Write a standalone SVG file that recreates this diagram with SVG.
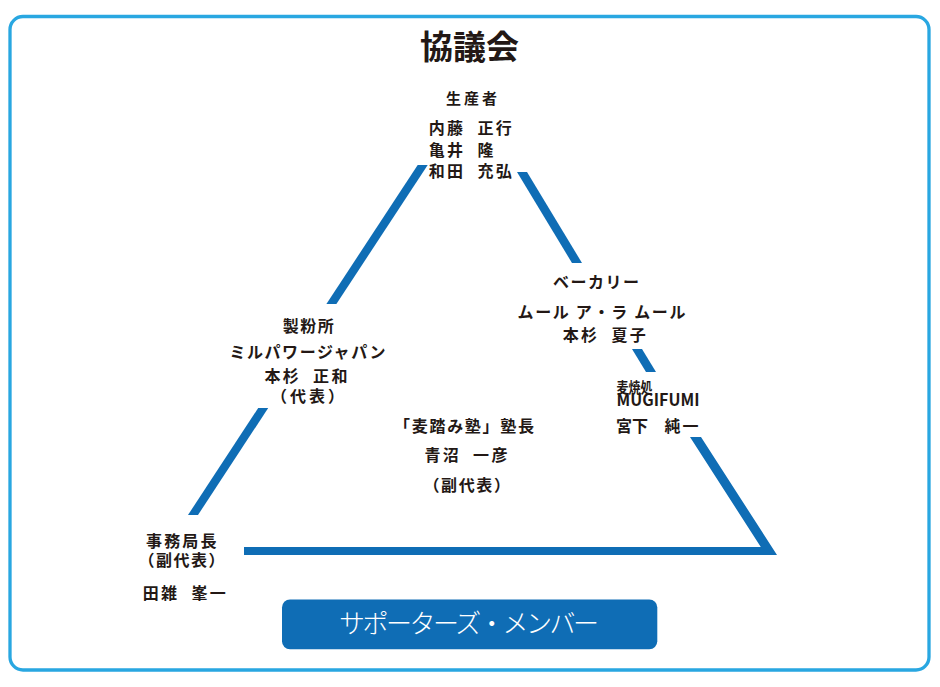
<svg xmlns="http://www.w3.org/2000/svg" width="940" height="687" viewBox="0 0 940 687">
<style>
  .t { font-family: "Noto Sans CJK JP", "Noto Sans CJK SC", sans-serif; fill: #231815; font-weight: 700; }
  .b { font-size: 16px; }
  .n { font-size: 16px; letter-spacing: 2.3px; }
  .edge { fill: #0f6db5; }
</style>
<rect x="0" y="0" width="940" height="687" fill="#ffffff"/>
<rect x="10" y="16.5" width="919" height="653.5" rx="13" ry="13" fill="none" stroke="#29a7e1" stroke-width="3.3"/>

<g id="connectors">
  <polygon class="edge" points="417.7,165 427.7,165 336.4,304 326.4,304"/>
  <polygon class="edge" points="258.2,408 268.2,408 198,515 188,515"/>
  <polygon class="edge" points="517,172 527,172 582,263 572,263"/>
  <polygon class="edge" points="632,349 642,349 656,372 646,372"/>
  <polygon class="edge" points="690,437 701,437 777,555 244,555 244,547 760.8,547"/>
</g>

<g id="title">
  <text class="t" x="469.5" y="59" font-size="33" text-anchor="middle">協議会</text>
</g>

<g id="producer">
  <text class="t" x="446" y="104" font-size="15" textLength="51" lengthAdjust="spacing">生産者</text>
  <text class="t n" y="134"><tspan x="428.7">内藤</tspan><tspan x="477.4">正行</tspan></text>
  <text class="t n" y="155.5"><tspan x="428.7">亀井</tspan><tspan x="477.4">隆</tspan></text>
  <text class="t n" y="176.5"><tspan x="428.7">和田</tspan><tspan x="477.4">充弘</tspan></text>
</g>

<g id="bakery">
  <text class="t b" x="553" y="288" textLength="86" lengthAdjust="spacing">ベーカリー</text>
  <text class="t b" x="517.5" y="318" textLength="168" lengthAdjust="spacing">ムール ア・ラ ムール</text>
  <text class="t n" y="341"><tspan x="562.7">本杉</tspan><tspan x="611.4">夏子</tspan></text>
</g>

<g id="mugifumi">
  <text class="t" x="616.4" y="393" font-size="14.5" textLength="36" lengthAdjust="spacingAndGlyphs">麦焼処</text>
  <text class="t" x="616.5" y="405.5" font-size="16.5" textLength="83" lengthAdjust="spacingAndGlyphs">MUGIFUMI</text>
  <text class="t b" y="432"><tspan x="616.1">宮下</tspan><tspan x="664.6" letter-spacing="2">純一</tspan></text>
</g>

<g id="flour-mill">
  <text class="t b" x="282.7" y="332" textLength="51" lengthAdjust="spacing">製粉所</text>
  <text class="t b" x="229.5" y="357.5" textLength="156" lengthAdjust="spacing">ミルパワージャパン</text>
  <text class="t n" y="382"><tspan x="264.4">本杉</tspan><tspan x="313.1">正和</tspan></text>
  <text class="t b" x="271" y="402" textLength="73" lengthAdjust="spacing">（代表）</text>
</g>

<g id="juku">
  <text class="t b" x="394" y="432" textLength="140" lengthAdjust="spacing">「麦踏み塾」塾長</text>
  <text class="t n" y="460.5"><tspan x="424.4">青沼</tspan><tspan x="473.1">一彦</tspan></text>
  <text class="t b" x="423.5" y="491" textLength="86.5" lengthAdjust="spacing">（副代表）</text>
</g>

<g id="secretariat">
  <text class="t b" x="146" y="547" textLength="70.5" lengthAdjust="spacing">事務局長</text>
  <text class="t b" x="138.5" y="566" textLength="86" lengthAdjust="spacing">（副代表）</text>
  <text class="t n" y="599"><tspan x="142.7">田雑</tspan><tspan x="191.4">峯一</tspan></text>
</g>

<g id="supporters">
  <rect x="282" y="599.5" width="375.3" height="49.8" rx="8" ry="8" fill="#0f6db5"/>
  <text x="469" y="633" font-family="Noto Sans CJK JP, Noto Sans CJK SC, sans-serif" font-size="26" font-weight="300" fill="#ffffff" text-anchor="middle" textLength="260" lengthAdjust="spacing">サポーターズ・メンバー</text>
</g>
</svg>
